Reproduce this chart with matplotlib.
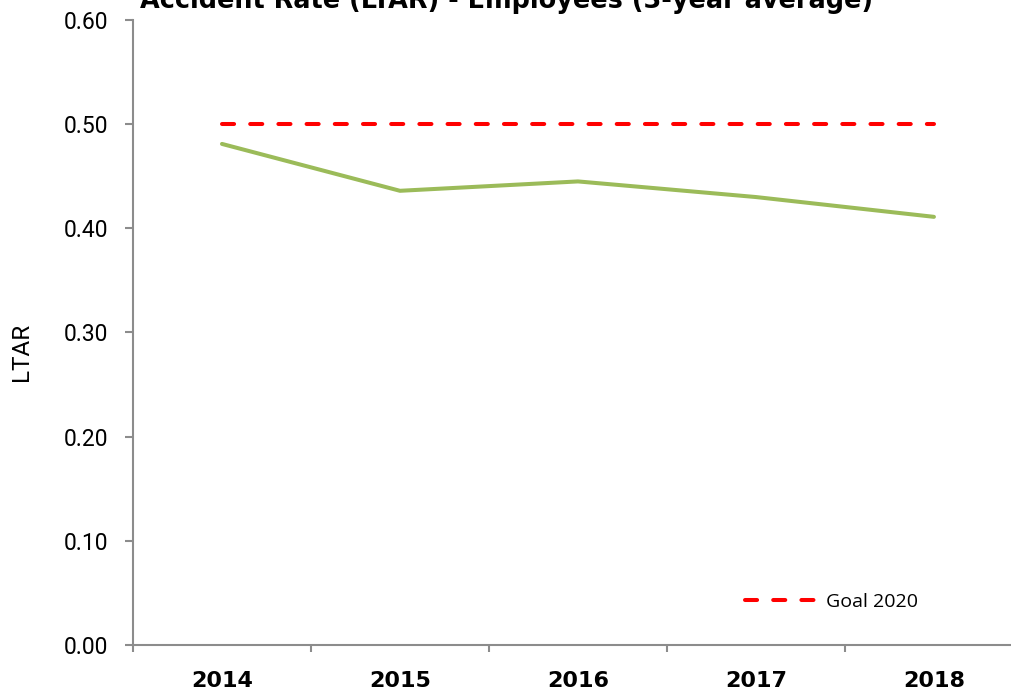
import matplotlib
matplotlib.use("Agg")
import matplotlib.pyplot as plt

years = ["2014", "2015", "2016", "2017", "2018"]
ltar = [0.481, 0.436, 0.445, 0.430, 0.411]
goal = [0.50, 0.50, 0.50, 0.50, 0.50]
y_ticks = [0.0, 0.1, 0.2, 0.3, 0.4, 0.5, 0.6]

plt.rcParams['font.family'] = ['Roboto', 'DejaVu Sans']
axis_grey = "#8C8C8C"

fig = plt.figure(figsize=(10.12, 6.93), dpi=100)
ax = fig.add_axes([0.1314, 0.0693, 0.8794, 0.9019])

x = list(range(len(years)))
ax.plot(x, ltar, color="#9BBB59", linewidth=2.9, solid_capstyle="round")
ax.plot(x, goal, color="#FF0000", linewidth=2.9, linestyle=(0, (3, 4)),
        dash_capstyle="round", label="Goal 2020")

ax.set_xlim(-0.5, len(years) - 0.5)
ax.set_ylim(0, 0.6)
ax.set_yticks(y_ticks)
ax.set_yticklabels([f"{v:.2f}" for v in y_ticks], fontsize=16.5)
ax.set_xticks([i - 0.5 for i in range(len(years) + 1)])
ax.set_xticklabels([])
ax.set_xticks(x, minor=True)
ax.set_xticklabels(years, minor=True, fontsize=16, fontweight="bold",
                   family="DejaVu Sans")
ax.tick_params(axis="x", which="minor", length=0, pad=19)
ax.tick_params(axis="x", which="major", length=5, color=axis_grey, width=1.5)
ax.tick_params(axis="y", which="major", length=6, color=axis_grey, width=1.5, pad=12)

for s in ["top", "right"]:
    ax.spines[s].set_visible(False)
for s in ["left", "bottom"]:
    ax.spines[s].set_color(axis_grey)
    ax.spines[s].set_linewidth(1.5)

ax.set_ylabel("LTAR", fontsize=17.5)
ax.yaxis.set_label_coords(-0.1125, 0.469)

ax.legend(loc="center left", bbox_to_anchor=(745 / 1012, 1 - 602 / 693),
          bbox_transform=fig.transFigure, frameon=False, borderpad=0,
          borderaxespad=0, prop={"family": "Open Sans", "size": 14},
          handlelength=3.6, handletextpad=0.55)

# title sits partly above the canvas, as in the original
fig.text(0.501, 0.989, "Accident Rate (LTAR) - Employees (3-year average)",
         ha="center", va="baseline", fontsize=18.4, fontweight="bold",
         family="DejaVu Sans")

fig.savefig("out.png", dpi=100)
